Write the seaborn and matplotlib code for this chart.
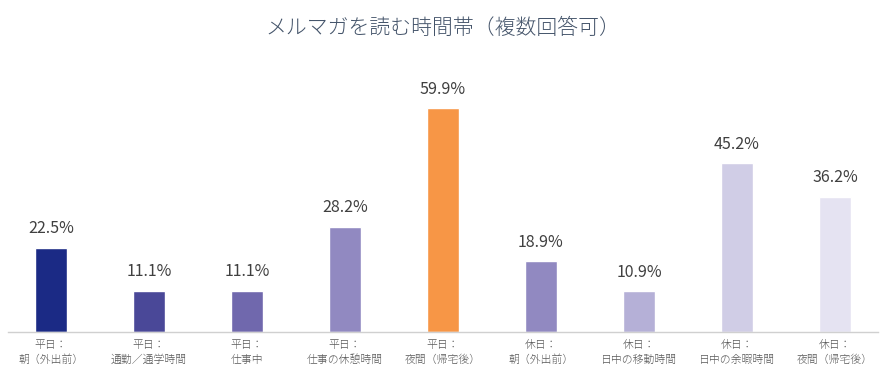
import matplotlib
matplotlib.use("Agg")
import matplotlib.pyplot as plt
import seaborn as sns
import pandas as pd

categories = ["平日：\n朝（外出前）", "平日：\n通勤／通学時間", "平日：\n仕事中", "平日：\n仕事の休憩時間",
              "平日：\n夜間（帰宅後）", "休日：\n朝（外出前）", "休日：\n日中の移動時間",
              "休日：\n日中の余暇時間", "休日：\n夜間（帰宅後）"]
values = [22.5, 11.1, 11.1, 28.2, 59.9, 18.9, 10.9, 45.2, 36.2]
colors = ["#1b2a85", "#4a4898", "#7068ad", "#9189c1", "#f79646", "#9189c1", "#b5b0d7", "#d0cde6", "#e5e3f2"]

df = pd.DataFrame({"cat": categories, "val": values})

sns.set_style("white")
plt.rcParams["font.family"] = ["Noto Sans CJK JP", "DejaVu Sans"]

fig = plt.figure(figsize=(8.86, 3.88), dpi=100)
ax = fig.add_axes([8 / 886, 56 / 388, 870 / 886, 243 / 388])

sns.barplot(data=df, x="cat", y="val", hue="cat", palette=colors, legend=False,
            width=0.33, saturation=1, ax=ax)

for i, v in enumerate(values):
    ax.text(i, v + 2.8, f"{v}%", ha="center", va="bottom", fontsize=11.5,
            color="#404040")

ax.set_xlim(-0.44, 8.44)
ax.set_ylim(0, 65)
ax.set_xlabel("")
ax.set_ylabel("")
ax.set_yticks([])
ax.tick_params(axis="x", length=0, labelsize=7.8, labelcolor="#595959", pad=6)
for lbl in ax.get_xticklabels():
    lbl.set_linespacing(1.45)
    lbl.set_fontweight("light")
for s in ["top", "left", "right"]:
    ax.spines[s].set_visible(False)
ax.spines["bottom"].set_color("#d0d0d0")
ax.spines["bottom"].set_linewidth(1)

fig.text(0.5, 1 - 28 / 388, "メルマガを読む時間帯（複数回答可）", ha="center", va="center",
         fontsize=15, fontweight="light", color="#44546a")

fig.savefig("out.png", dpi=100)
